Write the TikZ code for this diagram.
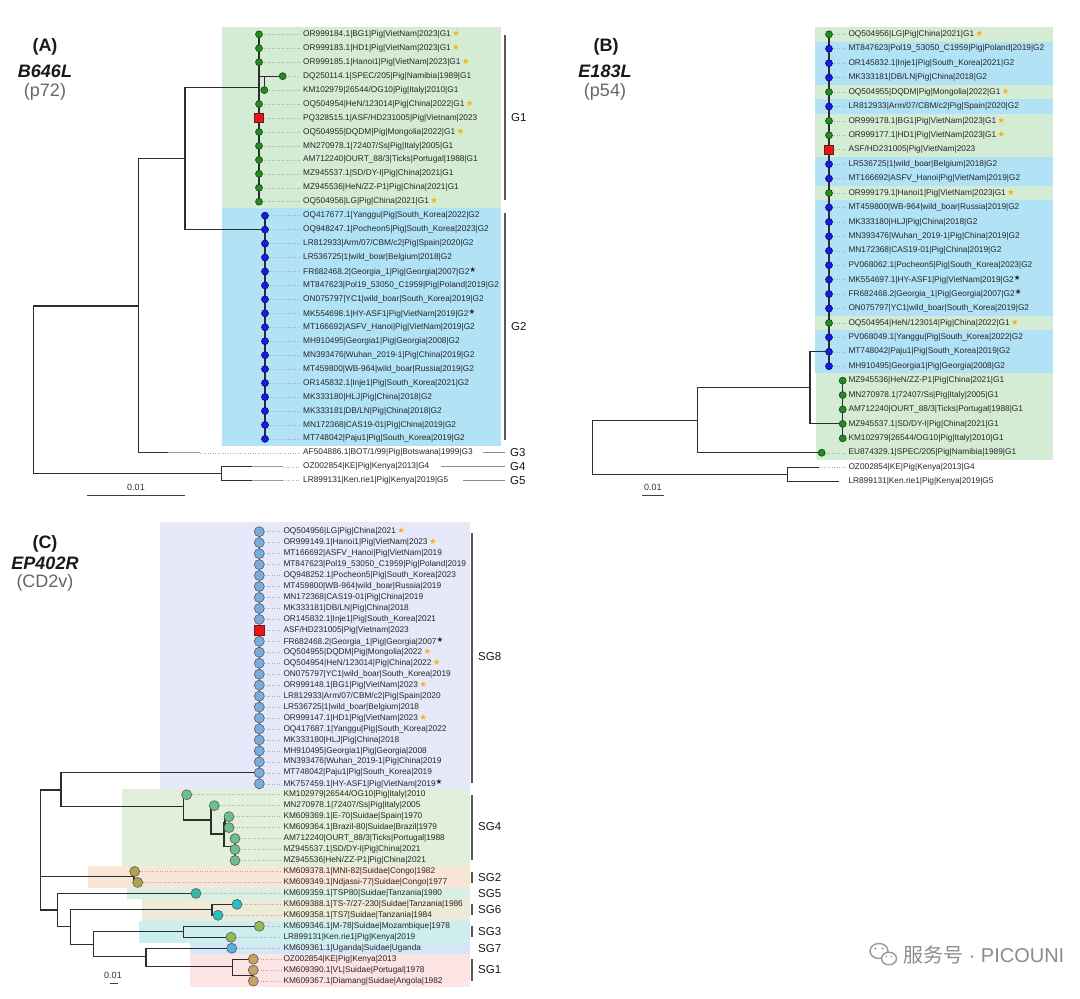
\documentclass[tikz,border=0pt]{standalone}
\usepackage{fontspec}
\setmainfont{Liberation Sans}
\newfontfamily\dejavu{DejaVu Sans}
\newfontfamily\cjkf{Noto Sans CJK SC}
\definecolor{bgG}{RGB}{212,236,212}
\definecolor{bgB}{RGB}{178,226,246}
\definecolor{mkG}{RGB}{34,139,34}
\definecolor{mkGd}{RGB}{15,70,15}
\definecolor{mkB}{RGB}{25,25,235}
\definecolor{mkBd}{RGB}{10,10,90}
\definecolor{sqR}{RGB}{235,20,20}
\definecolor{sqRd}{RGB}{100,30,30}
\definecolor{starY}{RGB}{245,180,20}
\definecolor{treeC}{RGB}{45,45,45}
\definecolor{cSGviii}{RGB}{230,233,250}
\definecolor{cSGiv}{RGB}{226,239,218}
\definecolor{cSGii}{RGB}{250,230,215}
\definecolor{cSGv}{RGB}{215,240,228}
\definecolor{cSGvi}{RGB}{237,235,215}
\definecolor{cSGiii}{RGB}{205,238,238}
\definecolor{cSGvii}{RGB}{210,232,245}
\definecolor{cSGi}{RGB}{252,228,228}
\definecolor{dSGviii}{RGB}{122,172,222}
\definecolor{dSGiv}{RGB}{108,190,140}
\definecolor{dSGii}{RGB}{172,165,82}
\definecolor{dSGv}{RGB}{60,182,160}
\definecolor{dSGvi}{RGB}{40,190,198}
\definecolor{dSGiii}{RGB}{150,185,90}
\definecolor{dSGvii}{RGB}{90,172,222}
\definecolor{dSGi}{RGB}{202,162,100}
\newcommand\gs{\,{\dejavu\fontsize{8.5}{8.5}\selectfont\color{starY}★}}
\newcommand\bs{\raisebox{1.8pt}{\dejavu\fontsize{7.5}{7.5}\selectfont ★}}
\begin{document}
\begin{tikzpicture}[x=1pt,y=-1pt,
  lab/.style={anchor=west,inner sep=0pt,font=\fontsize{8.3}{9}\selectfont,text=black!85},
  ttl/.style={inner sep=0pt,anchor=center,font=\fontsize{18}{20}\selectfont,text=black!90},
  grp/.style={anchor=west,inner sep=0pt,font=\fontsize{11.5}{12}\selectfont,text=black!90},
  tree/.style={draw=treeC,line width=1.1pt},
  fade/.style={draw=black!40,line width=1.1pt},
  leader/.style={draw=black!32,line width=0.5pt,dash pattern=on 0.7pt off 1.8pt},
  brk/.style={draw=black!65,line width=1.6pt},
  thin/.style={draw=black!45,line width=0.9pt},
  dot/.style={circle,inner sep=0pt,minimum size=7pt,line width=0.6pt},
  gdot/.style={dot,fill=mkG,draw=mkGd},
  bdot/.style={dot,fill=mkB,draw=mkBd},
  rsq/.style={rectangle,inner sep=0pt,minimum size=9.5pt,fill=sqR,draw=sqRd,line width=0.7pt},
  cdot/.style={circle,inner sep=0pt,minimum size=10pt,draw=black!65,line width=0.6pt}]
\useasboundingbox (0,0) rectangle (1080,999);
\fill[white] (0,0) rectangle (1080,999);

% ================= Panel A =================
\node[ttl] (tA) at (45,46.7) {\bfseries (A)};
\node[ttl] (gA) at (45,71.7) {\bfseries\itshape B646L};
\node[ttl,text=black!60] (pA) at (45,91.7) {(p72)};

\fill[bgG] (222,27) rectangle (501,208.3);
\fill[bgB] (222,208.3) rectangle (501,445.7);

\draw[tree] (138.3,306) -| (33.3,473.7) -- (221.7,473.7);
\draw[tree] (185,158.3) -| (138.3,452.8) -- (168,452.8);
\draw[fade] (168,452.8) -- (200,452.8);
\draw[tree] (259,87.3) -| (185,229.6) -- (265,229.6);
\draw[tree] (259,34.3) -- (259,201.7);
\draw[tree] (259,76.2) -- (282.7,76.2);
\draw[tree] (264.3,76.2) -- (264.3,90.1);
\draw[tree] (265,215.7) -- (265,438.9);
\draw[tree] (252,466.8) -| (221.7,480.7) -- (252,480.7);
\draw[fade] (252,466.8) -- (283,466.8);
\draw[fade] (252,480.7) -- (283,480.7);
\draw[leader] (200,452.8) -- (300,452.8);
\draw[leader] (283,466.8) -- (300,466.8);
\draw[leader] (283,480.7) -- (300,480.7);

\foreach \i/\x in {0/259,1/259,2/259,3/282.7,4/264.3,5/259,6/259,7/259,8/259,9/259,10/259,11/259,12/259,
  13/265,14/265,15/265,16/265,17/265,18/265,19/265,20/265,21/265,22/265,23/265,24/265,25/265,26/265,27/265,28/265,29/265}
  \draw[leader] (\x,{34.3+13.95*\i}) -- (300,{34.3+13.95*\i});
\foreach \i/\x in {0/259,1/259,2/259,3/282.7,4/264.3,5/259,7/259,8/259,9/259,10/259,11/259,12/259}
  \node[gdot] (ma\i) at (\x,{34.3+13.95*\i}) {};
\node[rsq] (ma6) at (259,{34.3+13.95*6}) {};
\foreach \i in {13,...,29}
  \node[bdot] (ma\i) at (265,{34.3+13.95*\i}) {};

\foreach \i/\t in {
0/{OR999184.1|BG1|Pig|VietNam|2023|G1\gs},
1/{OR999183.1|HD1|Pig|VietNam|2023|G1\gs},
2/{OR999185.1|Hanoi1|Pig|VietNam|2023|G1\gs},
3/{DQ250114.1|SPEC/205|Pig|Namibia|1989|G1},
4/{KM102979|26544/OG10|Pig|Italy|2010|G1},
5/{OQ504954|HeN/123014|Pig|China|2022|G1\gs},
6/{PQ328515.1|ASF/HD231005|Pig|Vietnam|2023},
7/{OQ504955|DQDM|Pig|Mongolia|2022|G1\gs},
8/{MN270978.1|72407/Ss|Pig|Italy|2005|G1},
9/{AM712240|OURT\_88/3|Ticks|Portugal|1988|G1},
10/{MZ945537.1|SD/DY-I|Pig|China|2021|G1},
11/{MZ945536|HeN/ZZ-P1|Pig|China|2021|G1},
12/{OQ504956|LG|Pig|China|2021|G1\gs},
13/{OQ417677.1|Yanggu|Pig|South\_Korea|2022|G2},
14/{OQ948247.1|Pocheon5|Pig|South\_Korea|2023|G2},
15/{LR812933|Arm/07/CBM/c2|Pig|Spain|2020|G2},
16/{LR536725|1|wild\_boar|Belgium|2018|G2},
17/{FR682468.2|Georgia\_1|Pig|Georgia|2007|G2\bs},
18/{MT847623|Pol19\_53050\_C1959|Pig|Poland|2019|G2},
19/{ON075797|YC1|wild\_boar|South\_Korea|2019|G2},
20/{MK554698.1|HY-ASF1|Pig|VietNam|2019|G2\bs},
21/{MT166692|ASFV\_Hanoi|Pig|VietNam|2019|G2},
22/{MH910495|Georgia1|Pig|Georgia|2008|G2},
23/{MN393476|Wuhan\_2019-1|Pig|China|2019|G2},
24/{MT459800|WB-964|wild\_boar|Russia|2019|G2},
25/{OR145832.1|Inje1|Pig|South\_Korea|2021|G2},
26/{MK333180|HLJ|Pig|China|2018|G2},
27/{MK333181|DB/LN|Pig|China|2018|G2},
28/{MN172368|CAS19-01|Pig|China|2019|G2},
29/{MT748042|Paju1|Pig|South\_Korea|2019|G2},
30/{AF504886.1|BOT/1/99|Pig|Botswana|1999|G3},
31/{OZ002854|KE|Pig|Kenya|2013|G4},
32/{LR899131|Ken.rie1|Pig|Kenya|2019|G5}}
  \node[lab] (a\i) at (303,{34.3+13.95*\i}) {\t};

\draw[brk] (505,35) -- (505,200);
\draw[brk] (505,213) -- (505,440);
\node[grp] (gG1) at (511,118) {G1};
\node[grp] (gG2) at (511,327) {G2};
\draw[thin] (483,452.8) -- (505,452.8);
\draw[thin] (441,466.8) -- (505,466.8);
\draw[thin] (463,480.7) -- (505,480.7);
\node[grp] (gG3) at (510,452.8) {G3};
\node[grp] (gG4) at (510,466.8) {G4};
\node[grp] (gG5) at (510,480.7) {G5};

\draw[line width=1pt,black!75] (87.3,495.7) -- (185,495.7);
\node[inner sep=0pt,font=\fontsize{9}{10}\selectfont,text=black!80] (sA) at (136,487.5) {0.01};

% ================= Panel B =================
\node[ttl] (tB) at (606,46.7) {\bfseries (B)};
\node[ttl] (gB) at (605,71.7) {\bfseries\itshape E183L};
\node[ttl,text=black!60] (pB) at (605,91.7) {(p54)};

\fill[bgB] (815,27.1) rectangle (1053,373.4);
\foreach \i in {0,4,6,7,8,11,20}
  \fill[bgG] (815,{27.1+14.43*\i}) rectangle (1053,{27.1+14.43*(\i+1)});
\fill[bgG] (816,373.4) rectangle (1053,460);

\draw[tree] (829,34.3) -- (829,366.2);
\draw[tree] (829,351.8) -| (810,423.9) -- (842.7,423.9);
\draw[tree] (842.7,380.6) -- (842.7,438.3);
\draw[tree] (810,387.9) -| (697.7,452.8) -- (821.7,452.8);
\draw[tree] (697.7,420.3) -| (592.7,474.4) -- (787.7,474.4);
\draw[tree] (819,467.2) -| (787.7,481.6) -- (839.3,481.6);

\foreach \i in {0,...,23}
  \draw[leader] (829,{34.3+14.43*\i}) -- (845,{34.3+14.43*\i});
\draw[leader] (821.7,452.8) -- (845,452.8);
\draw[leader] (819,467.2) -- (845,467.2);

\foreach \i in {0,4,6,7,11,20}
  \node[gdot] (mb\i) at (829,{34.3+14.43*\i}) {};
\node[rsq] (mb8) at (829,{34.3+14.43*8}) {};
\foreach \i in {1,2,3,5,9,10,12,13,14,15,16,17,18,19,21,22,23}
  \node[bdot] (mb\i) at (829,{34.3+14.43*\i}) {};
\foreach \i in {24,...,28}
  \node[gdot] (mb\i) at (842.7,{34.3+14.43*\i}) {};
\node[gdot] (mb29) at (821.7,{34.3+14.43*29}) {};

\foreach \i/\t in {
0/{OQ504956|LG|Pig|China|2021|G1\gs},
1/{MT847623|Pol19\_53050\_C1959|Pig|Poland|2019|G2},
2/{OR145832.1|Inje1|Pig|South\_Korea|2021|G2},
3/{MK333181|DB/LN|Pig|China|2018|G2},
4/{OQ504955|DQDM|Pig|Mongolia|2022|G1\gs},
5/{LR812933|Arm/07/CBM/c2|Pig|Spain|2020|G2},
6/{OR999178.1|BG1|Pig|VietNam|2023|G1\gs},
7/{OR999177.1|HD1|Pig|VietNam|2023|G1\gs},
8/{ASF/HD231005|Pig|VietNam|2023},
9/{LR536725|1|wild\_boar|Belgium|2018|G2},
10/{MT166692|ASFV\_Hanoi|Pig|VietNam|2019|G2},
11/{OR999179.1|Hanoi1|Pig|VietNam|2023|G1\gs},
12/{MT459800|WB-964|wild\_boar|Russia|2019|G2},
13/{MK333180|HLJ|Pig|China|2018|G2},
14/{MN393476|Wuhan\_2019-1|Pig|China|2019|G2},
15/{MN172368|CAS19-01|Pig|China|2019|G2},
16/{PV068062.1|Pocheon5|Pig|South\_Korea|2023|G2},
17/{MK554697.1|HY-ASF1|Pig|VietNam|2019|G2\bs},
18/{FR682468.2|Georgia\_1|Pig|Georgia|2007|G2\bs},
19/{ON075797|YC1|wild\_boar|South\_Korea|2019|G2},
20/{OQ504954|HeN/123014|Pig|China|2022|G1\gs},
21/{PV068049.1|Yanggu|Pig|South\_Korea|2022|G2},
22/{MT748042|Paju1|Pig|South\_Korea|2019|G2},
23/{MH910495|Georgia1|Pig|Georgia|2008|G2},
24/{MZ945536|HeN/ZZ-P1|Pig|China|2021|G1},
25/{MN270978.1|72407/Ss|Pig|Italy|2005|G1},
26/{AM712240|OURT\_88/3|Ticks|Portugal|1988|G1},
27/{MZ945537.1|SD/DY-I|Pig|China|2021|G1},
28/{KM102979|26544/OG10|Pig|Italy|2010|G1},
29/{EU874329.1|SPEC/205|Pig|Namibia|1989|G1},
30/{OZ002854|KE|Pig|Kenya|2013|G4},
31/{LR899131|Ken.rie1|Pig|Kenya|2019|G5}}
  \node[lab] (b\i) at (848.3,{34.3+14.43*\i}) {\t};

\draw[line width=1pt,black!75] (641.7,495) -- (664,495);
\node[inner sep=0pt,font=\fontsize{9}{10}\selectfont,text=black!80] (sB) at (652.8,487) {0.01};

% ================= Panel C =================
\node[ttl] (tC) at (45,544) {\bfseries (C)};
\node[ttl] (gC) at (45,563.5) {\bfseries\itshape EP402R};
\node[ttl,text=black!60] (pC) at (45,583) {(CD2v)};

\fill[cSGviii] (160,522) rectangle (470,789.3);
\fill[cSGiv] (122,789.3) rectangle (470,866);
\fill[cSGii] (88,866) rectangle (470,887.9);
\fill[cSGv] (127,887.9) rectangle (470,898.9);
\fill[cSGvi] (142,898.9) rectangle (470,920.8);
\fill[cSGiii] (139,920.8) rectangle (470,942.7);
\fill[cSGvii] (190,942.7) rectangle (470,953.6);
\fill[cSGi] (190,953.6) rectangle (470,986.5);

\draw[tree] (259.3,531.7) -- (259.3,783.8);
\draw[tree] (259.3,772.8) -| (61,806.7) -- (183.3,806.7);
\draw[tree] (186.7,794.7) -| (183.3,820) -- (211,820);
\draw[tree] (214.3,805.7) -| (211,834) -- (224,834);
\draw[tree] (229,816.7) -| (225,827.6) -- (229,827.6);
\draw[tree] (225,822.1) -| (224,846.7) -- (235,846.7);
\draw[tree] (235,838.6) -- (235,860.5);
\draw[tree] (61,790) -| (40.7,910) -- (57.7,910);
\draw[tree] (40.7,876.7) -- (134,876.7);
\draw[tree] (134.7,871.5) -| (134,882.4) -- (137.7,882.4);
\draw[tree] (196,893.4) -| (57.7,926.7) -- (70.7,926.7);
\draw[tree] (212,909.3) -| (70.7,944.3) -- (93.3,944.3);
\draw[tree] (237,904.3) -| (212,915.3) -- (218,915.3);
\draw[tree] (183.7,931.7) -| (93.3,956.7) -- (146,956.7);
\draw[tree] (259.3,926.3) -| (183.7,937.2) -- (231,937.2);
\draw[tree] (231.7,948.2) -| (146,966.7) -- (232.3,966.7);
\draw[tree] (253.3,959.1) -| (232.3,975.5) -- (253.3,975.5);
\draw[tree] (253.3,970.1) -- (253.3,981.1);

\foreach \i/\x in {0/259.3,1/259.3,2/259.3,3/259.3,4/259.3,5/259.3,6/259.3,7/259.3,8/259.3,9/259.3,10/259.3,11/259.3,
  12/259.3,13/259.3,14/259.3,15/259.3,16/259.3,17/259.3,18/259.3,19/259.3,20/259.3,21/259.3,22/259.3,23/259.3,
  24/186.7,25/214.3,26/229,27/229,28/235,29/235,30/235,31/134.7,32/137.7,33/196,34/237,35/218,36/259.3,37/231,
  38/231.7,39/253.3,40/253.3,41/253.3}
  \draw[leader] (\x,{531.7+10.96*\i}) -- (281,{531.7+10.96*\i});

\foreach \i in {0,1,2,3,4,5,6,7,8,10,11,12,13,14,15,16,17,18,19,20,21,22,23}
  \node[cdot,fill=dSGviii] (mc\i) at (259.3,{531.7+10.96*\i}) {};
\node[rsq,minimum size=10pt] (mc9) at (259.3,{531.7+10.96*9}) {};
\foreach \i/\x in {24/186.7,25/214.3,26/229,27/229,28/235,29/235,30/235}
  \node[cdot,fill=dSGiv] (mc\i) at (\x,{531.7+10.96*\i}) {};
\node[cdot,fill=dSGii] (mc31) at (134.7,{531.7+10.96*31}) {};
\node[cdot,fill=dSGii] (mc32) at (137.7,{531.7+10.96*32}) {};
\node[cdot,fill=dSGv] (mc33) at (196,{531.7+10.96*33}) {};
\node[cdot,fill=dSGvi] (mc34) at (237,{531.7+10.96*34}) {};
\node[cdot,fill=dSGvi] (mc35) at (218,{531.7+10.96*35}) {};
\node[cdot,fill=dSGiii] (mc36) at (259.3,{531.7+10.96*36}) {};
\node[cdot,fill=dSGiii] (mc37) at (231,{531.7+10.96*37}) {};
\node[cdot,fill=dSGvii] (mc38) at (231.7,{531.7+10.96*38}) {};
\foreach \i in {39,40,41}
  \node[cdot,fill=dSGi] (mc\i) at (253.3,{531.7+10.96*\i}) {};

\foreach \i/\t in {
0/{OQ504956|LG|Pig|China|2021\gs},
1/{OR999149.1|Hanoi1|Pig|VietNam|2023\gs},
2/{MT166692|ASFV\_Hanoi|Pig|VietNam|2019},
3/{MT847623|Pol19\_53050\_C1959|Pig|Poland|2019},
4/{OQ948252.1|Pocheon5|Pig|South\_Korea|2023},
5/{MT459800|WB-964|wild\_boar|Russia|2019},
6/{MN172368|CAS19-01|Pig|China|2019},
7/{MK333181|DB/LN|Pig|China|2018},
8/{OR145832.1|Inje1|Pig|South\_Korea|2021},
9/{ASF/HD231005|Pig|Vietnam|2023},
10/{FR682468.2|Georgia\_1|Pig|Georgia|2007\bs},
11/{OQ504955|DQDM|Pig|Mongolia|2022\gs},
12/{OQ504954|HeN/123014|Pig|China|2022\gs},
13/{ON075797|YC1|wild\_boar|South\_Korea|2019},
14/{OR999148.1|BG1|Pig|VietNam|2023\gs},
15/{LR812933|Arm/07/CBM/c2|Pig|Spain|2020},
16/{LR536725|1|wild\_boar|Belgium|2018},
17/{OR999147.1|HD1|Pig|VietNam|2023\gs},
18/{OQ417687.1|Yanggu|Pig|South\_Korea|2022},
19/{MK333180|HLJ|Pig|China|2018},
20/{MH910495|Georgia1|Pig|Georgia|2008},
21/{MN393476|Wuhan\_2019-1|Pig|China|2019},
22/{MT748042|Paju1|Pig|South\_Korea|2019},
23/{MK757459.1|HY-ASF1|Pig|VietNam|2019\bs},
24/{KM102979|26544/OG10|Pig|Italy|2010},
25/{MN270978.1|72407/Ss|Pig|Italy|2005},
26/{KM609369.1|E-70|Suidae|Spain|1970},
27/{KM609364.1|Brazil-80|Suidae|Brazil|1979},
28/{AM712240|OURT\_88/3|Ticks|Portugal|1988},
29/{MZ945537.1|SD/DY-I|Pig|China|2021},
30/{MZ945536|HeN/ZZ-P1|Pig|China|2021},
31/{KM609378.1|MNI-82|Suidae|Congo|1982},
32/{KM609349.1|Ndjassi-77|Suidae|Congo|1977},
33/{KM609359.1|TSP80|Suidae|Tanzania|1980},
34/{KM609388.1|TS-7/27-230|Suidae|Tanzania|1986},
35/{KM609358.1|TS7|Suidae|Tanzania|1984},
36/{KM609346.1|M-78|Suidae|Mozambique|1978},
37/{LR899131|Ken.rie1|Pig|Kenya|2019},
38/{KM609361.1|Uganda|Suidae|Uganda},
39/{OZ002854|KE|Pig|Kenya|2013},
40/{KM609390.1|VL|Suidae|Portugal|1978},
41/{KM609367.1|Diamang|Suidae|Angola|1982}}
  \node[lab] (c\i) at (283.3,{531.7+10.96*\i}) {\t};

\draw[brk] (472,533) -- (472,783);
\draw[brk] (472,795) -- (472,860);
\draw[brk] (472,872) -- (472,883);
\draw[brk] (472,904) -- (472,915);
\draw[brk] (472,926) -- (472,937);
\draw[brk] (472,959) -- (472,981);
\node[grp] (sg8) at (478,657) {SG8};
\node[grp] (sg4) at (478,827) {SG4};
\node[grp] (sg2) at (478,877.5) {SG2};
\node[grp] (sg5) at (478,893.4) {SG5};
\node[grp] (sg6) at (478,909.5) {SG6};
\node[grp] (sg3) at (478,931.5) {SG3};
\node[grp] (sg7) at (478,948.2) {SG7};
\node[grp] (sg1) at (478,970) {SG1};

\draw[line width=1pt,black!75] (110,983.3) -- (118,983.3);
\node[inner sep=0pt,font=\fontsize{9}{10}\selectfont,text=black!80] (sC) at (113,975.5) {0.01};

% ================= watermark =================
\draw[black!40,line width=1.4pt] (879,951) ellipse (9pt and 7.5pt);
\fill[white] (889,958.5) ellipse (7.5pt and 6.3pt);
\draw[black!40,line width=1.4pt] (889,958.5) ellipse (7.5pt and 6.3pt);
\fill[black!40] (875.5,948.5) circle (1.1pt) (882.5,948.5) circle (1.1pt)
  (886.5,956.5) circle (0.9pt) (891.5,956.5) circle (0.9pt);
\node[anchor=west,inner sep=0pt,text=black!45,font=\fontsize{20}{22}\selectfont] (wm) at (903,955)
  {{\cjkf 服务号} · PICOUNI};
\end{tikzpicture}
\end{document}
